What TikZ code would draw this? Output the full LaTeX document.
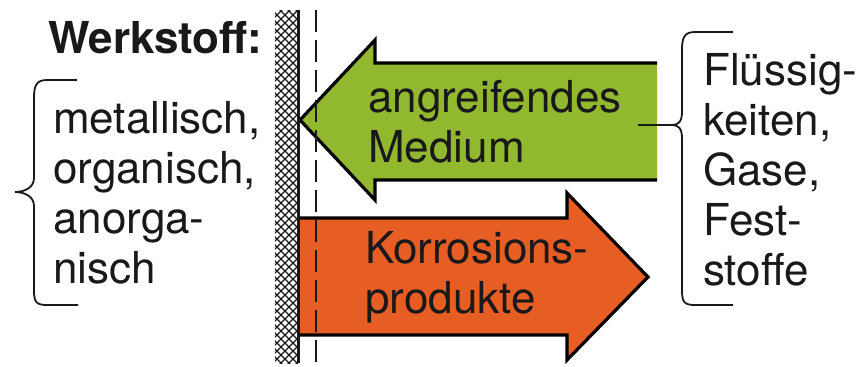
\documentclass[tikz,border=0pt]{standalone}
\usepackage{fontspec}
\setmainfont{TeX Gyre Heros}
\usepackage{tikz}
\usetikzlibrary{positioning}
\usepackage{xcolor}
\definecolor{mediumgreen}{RGB}{146,184,48}
\definecolor{productorange}{RGB}{230,94,36}
\definecolor{inkdark}{RGB}{25,25,25}

\newcommand{\linesblock}[1]{\parbox[t]{8cm}{\fontsize{44}{50}\selectfont #1}}

\begin{document}
\begin{tikzpicture}[x=1pt, y=-1pt,
    textblock/.style={anchor=base west, inner sep=0pt, text=inkdark},
    arrowedge/.style={line width=3.2pt, line join=miter, color=black},
    bracket/.style={line width=1.8pt, inkdark}]
    \useasboundingbox (0,0) rectangle (863,367);
    % Wall with hatching
    \begin{scope}
      \clip (275,10) rectangle (298,363);
      \foreach \y in {-32,-24,...,376} {
        \draw[line width=1.3pt, inkdark] (270,\y) -- (300,\y+30);
        \draw[line width=1.3pt, inkdark] (270,\y+30) -- (300,\y);
      }
    \end{scope}
    % Arrow: angreifendes Medium
    \fill[mediumgreen] (657,63) -- (375,63) -- (375,40) -- (300,120)
      -- (375,200) -- (375,180) -- (657,180) -- cycle;
    \draw[arrowedge] (657,63) -- (375,63) -- (375,40) -- (300,120)
      -- (375,200) -- (375,180) -- (657,180);
    % Arrow: Korrosionsprodukte
    \fill[productorange] (298,218) -- (567,218) -- (567,193) -- (648,277)
      -- (567,360) -- (567,335) -- (298,335) -- cycle;
    \draw[arrowedge] (298,218) -- (567,218) -- (567,193) -- (648,277)
      -- (567,360) -- (567,335) -- (298,335);
    % Wall surface and boundary layer
    \draw[line width=3pt, inkdark] (298,10) -- (298,363);
    \draw[line width=2pt, inkdark, dash pattern=on 22pt off 8pt] (316,10) -- (316,363);
    % Texts
    \node[textblock, font=\fontsize{44}{50}\selectfont\bfseries] (werkstoff) at (48,53) {Werkstoff:};
    \node[textblock] (arten) at (53,133)
      {\linesblock{metallisch,\\organisch,\\anorga-\\nisch}};
    \node[textblock] (medium) at (368,112)
      {\linesblock{angreifendes\\Medium}};
    \node[textblock] (produkte) at (365,263)
      {\linesblock{Korrosions-\\produkte}};
    \node[textblock] (stoffe) at (703,85)
      {\linesblock{Flüssig-\\keiten,\\Gase,\\Fest-\\stoffe}};
    % Braces
    \coordinate (arten-tip) at (15,192);
    \draw[bracket] (77,80) -- (47,80) .. controls (36,80) and (34,86) .. (34,98)
      -- (34,178) .. controls (34,188) and (24,192) .. (arten-tip)
      .. controls (24,192) and (34,196) .. (34,206)
      -- (34,290) .. controls (34,302) and (36,305) .. (47,305) -- (78,305);
    \coordinate (stoffe-tip) at (672,125);
    \draw[bracket] (733,32) -- (695,32) .. controls (684,32) and (682,38) .. (682,50)
      -- (682,112) .. controls (682,122) and (678,125) .. (stoffe-tip)
      .. controls (678,125) and (682,128) .. (682,138)
      -- (682,290) .. controls (682,302) and (684,305) .. (695,305) -- (733,305);
    % Connector
    \coordinate (medium-end) at (638,125);
    \draw[bracket] (medium-end) -- (stoffe-tip);
  \end{tikzpicture}
\end{document}
